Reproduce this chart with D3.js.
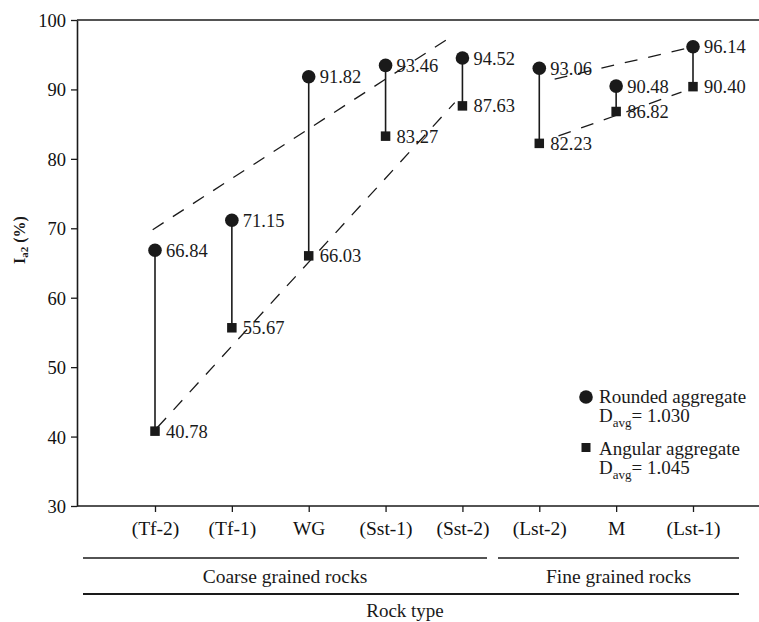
<!DOCTYPE html>
<html>
<head>
<meta charset="utf-8">
<script src="https://cdn.jsdelivr.net/npm/d3@7"></script>
<style>
  body { margin: 0; background: #fff; }
  svg { display: block; font-family: "Liberation Serif", "Times New Roman", serif; }
  .tick text { font-family: "Liberation Serif", serif; fill: #111; }
</style>
</head>
<body>
<svg id="chart" width="759" height="622"></svg>
<script>
// данные
var categories = ['(Tf-2)', '(Tf-1)', 'WG', '(Sst-1)', '(Sst-2)', '(Lst-2)', 'M', '(Lst-1)'];
var rounded = [66.84, 71.15, 91.82, 93.46, 94.52, 93.06, 90.48, 96.14];
var angular = [40.78, 55.67, 66.03, 83.27, 87.63, 82.23, 86.82, 90.40];
var yTicks = [30, 40, 50, 60, 70, 80, 90, 100];

// огибающие (индекс категории, значение)
var coarseUpper = [[-0.03, 69.8], [3.8, 97.2]];
var coarseLower = [[0.03, 41.3], [3.9, 88.1]];
var fineUpper = [[5.2, 91.5], [6.95, 96.0]];
var fineLower = [[5.25, 83.3], [6.85, 89.6]];

var groupNames = ['Coarse grained rocks', 'Fine grained rocks'];

var svg = d3.select('#chart');
var plotLeft = 77, plotRight = 759, plotTop = 20, plotBottom = 506;
var ink = '#1a1a1a';

var x = d3.scaleLinear().domain([0, 7]).range([155, 693]);
var y = d3.scaleLinear().domain([30, 100]).range([plotBottom, plotTop]);

// рамка
svg.append('line').attr('x1', plotLeft).attr('x2', plotRight).attr('y1', plotTop).attr('y2', plotTop)
    .attr('stroke', ink).attr('stroke-width', 1.6);
svg.append('line').attr('x1', plotLeft).attr('x2', plotRight).attr('y1', plotBottom).attr('y2', plotBottom)
    .attr('stroke', ink).attr('stroke-width', 1.6);

// ось Y
var yAxis = svg.append('g')
    .attr('transform', `translate(${plotLeft},0)`)
    .call(d3.axisLeft(y).tickValues(yTicks).tickSize(6).tickSizeOuter(0).tickPadding(5));
yAxis.select('.domain').attr('stroke', ink).attr('stroke-width', 1.6);
yAxis.selectAll('.tick line').attr('stroke', ink).attr('stroke-width', 1.3);
yAxis.selectAll('.tick text').attr('font-size', 18.5).attr('dy', '0.35em');

// ось X
var xAxis = svg.append('g')
    .attr('transform', `translate(0,${plotBottom})`)
    .call(d3.axisBottom(x).tickValues(d3.range(categories.length))
        .tickFormat(i => categories[i]).tickSize(6).tickPadding(9));
xAxis.select('.domain').remove();
xAxis.selectAll('.tick line').attr('stroke', ink).attr('stroke-width', 1.3);
xAxis.selectAll('.tick text').attr('font-size', 19.5);

// подпись оси Y
var yLabel = svg.append('text')
    .attr('transform', 'translate(25,240) rotate(-90)')
    .attr('text-anchor', 'middle')
    .attr('font-size', 16)
    .attr('font-weight', 'bold')
    .attr('fill', ink);
yLabel.append('tspan').text('I');
yLabel.append('tspan').attr('font-size', 11).attr('dy', 3).text('a2');
yLabel.append('tspan').attr('dy', -3).text(' (%)');

// пунктирные огибающие
var line = d3.line().x(d => x(d[0])).y(d => y(d[1]));
[coarseUpper, coarseLower, fineUpper, fineLower].forEach(pts => {
    svg.append('path')
        .attr('d', line(pts))
        .attr('fill', 'none')
        .attr('stroke', ink)
        .attr('stroke-width', 1.3)
        .attr('stroke-dasharray', '13,11');
});

// вертикальные отрезки
svg.selectAll('.stem')
    .data(categories)
    .enter()
    .append('line')
    .attr('class', 'stem')
    .attr('x1', (d, i) => x(i)).attr('x2', (d, i) => x(i))
    .attr('y1', (d, i) => y(rounded[i])).attr('y2', (d, i) => y(angular[i]))
    .attr('stroke', ink).attr('stroke-width', 1.6);

// круглые маркеры
svg.selectAll('.round')
    .data(rounded)
    .enter()
    .append('circle')
    .attr('class', 'round')
    .attr('cx', (d, i) => x(i))
    .attr('cy', d => y(d))
    .attr('r', 6.8)
    .attr('fill', ink);

// квадратные маркеры
var sq = 9.5;
svg.selectAll('.ang')
    .data(angular)
    .enter()
    .append('rect')
    .attr('class', 'ang')
    .attr('x', (d, i) => x(i) - sq / 2)
    .attr('y', d => y(d) - sq / 2)
    .attr('width', sq).attr('height', sq)
    .attr('fill', ink);

// подписи значений
function addLabels(values) {
    svg.selectAll(null)
        .data(values)
        .enter()
        .append('text')
        .attr('x', (d, i) => x(i) + 11)
        .attr('y', d => y(d))
        .attr('dy', '0.35em')
        .attr('font-size', 18.5)
        .attr('fill', ink)
        .text(d => d.toFixed(2));
}
addLabels(rounded);
addLabels(angular);

// группы пород
groupNames.forEach((name, k) => {
    var x1 = k === 0 ? 83 : 498;
    var x2 = k === 0 ? 487 : 739;
    svg.append('line').attr('x1', x1).attr('x2', x2).attr('y1', 558).attr('y2', 558)
        .attr('stroke', ink).attr('stroke-width', 1.5);
    svg.append('text')
        .attr('x', (x1 + x2) / 2).attr('y', 583)
        .attr('text-anchor', 'middle').attr('font-size', 19.5).attr('fill', ink)
        .text(name);
});
svg.append('line').attr('x1', 83).attr('x2', 739).attr('y1', 594).attr('y2', 594)
    .attr('stroke', ink).attr('stroke-width', 1.8);
svg.append('text')
    .attr('x', 405).attr('y', 617)
    .attr('text-anchor', 'middle').attr('font-size', 19).attr('fill', ink)
    .text('Rock type');

// легенда
var legend = svg.append('g').attr('transform', 'translate(586,0)');
legend.append('circle').attr('cx', 0).attr('cy', 397).attr('r', 6.8).attr('fill', ink);
legend.append('rect').attr('x', -4.5).attr('y', 443).attr('width', 9).attr('height', 9).attr('fill', ink);
function legendText(yy, main, dval) {
    legend.append('text').attr('x', 13).attr('y', yy).attr('font-size', 19).attr('fill', ink).text(main);
    var t = legend.append('text').attr('x', 13).attr('y', yy + 19).attr('font-size', 19).attr('fill', ink);
    t.append('tspan').text('D');
    t.append('tspan').attr('font-size', 13).attr('dy', 5).text('avg');
    t.append('tspan').attr('dy', -5).text('= ' + dval);
}
legendText(403, 'Rounded aggregate', '1.030');
legendText(455, 'Angular aggregate', '1.045');
</script>
</body>
</html>
